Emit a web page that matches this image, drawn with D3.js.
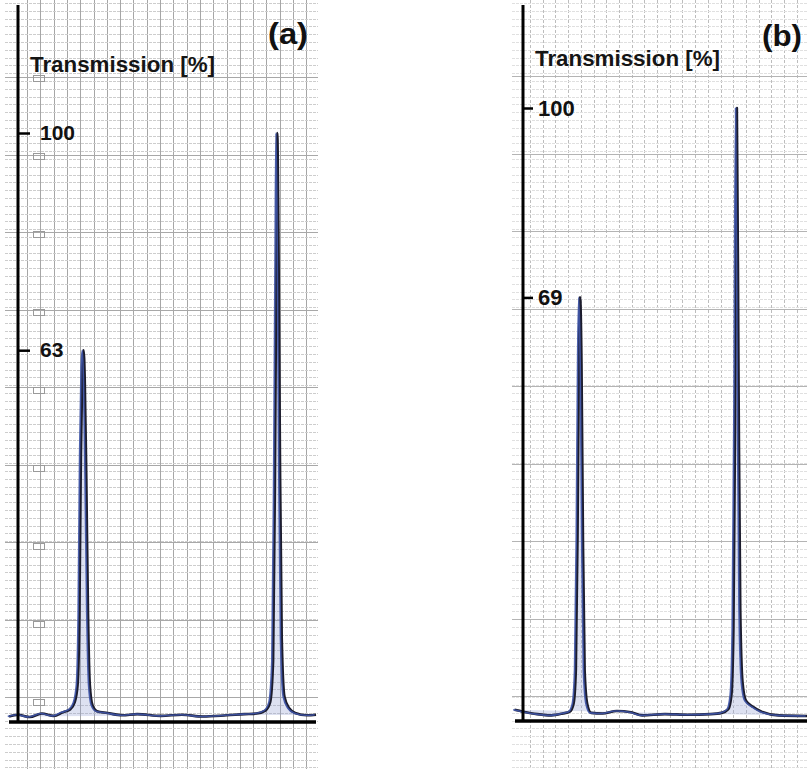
<!DOCTYPE html>
<html>
<head>
<meta charset="utf-8">
<script src="https://cdn.jsdelivr.net/npm/d3@7"></script>
<style>
  body { margin: 0; background: #fff; }
  svg { display: block; }
</style>
</head>
<body>
<script>
// values
let panelLabels = ["(a)", "(b)"]
let axisTitle = "Transmission [%]"
let ticksA = [63, 100]
let ticksB = [69, 100]
// trace = [position (arbitrary chart units), transmission %]
let traceA = [
  [-3, 0.6], [0, 0.9], [4, 0.5], [8, 1.1], [12, 0.7], [15, 1.3], [17.5, 1.8], [19.0, 3],
  [20.0, 6], [20.6, 18], [21.1, 45], [21.6, 60], [22.0, 63], [22.4, 58], [22.9, 42],
  [23.5, 18], [24.1, 6], [25.0, 2.5], [26.5, 1.5], [30, 1.2], [35, 0.8], [40, 1.0],
  [48, 0.7], [55, 0.9], [62, 0.6], [70, 0.8], [76, 1.0], [80, 1.1], [83, 1.6], [84.6, 3],
  [85.6, 10], [86.2, 40], [86.7, 80], [87.0, 100], [87.4, 82], [87.9, 45], [88.5, 14],
  [89.4, 4], [91, 2], [93, 1.2], [97, 0.8], [100, 0.9]
]
let traceB = [
  [-3, 1.5], [0, 1.2], [5, 0.8], [10, 0.6], [14, 0.9], [16.5, 1.2], [17.8, 2.5], [18.6, 8],
  [19.2, 30], [19.7, 60], [20.1, 69], [20.6, 58], [21.1, 30], [21.7, 8], [22.6, 2.5],
  [24, 1], [28, 0.9], [33, 1.3], [38, 1.1], [42, 0.6], [50, 0.8], [58, 0.7], [66, 0.8],
  [70, 1.0], [72.3, 1.6], [73.4, 4], [74.1, 15], [74.7, 50], [75.3, 100], [75.9, 55],
  [76.5, 18], [77.3, 6], [78.5, 3], [81, 2], [84, 1.2], [90, 0.6], [100, 0.5]
]

let W = 807, H = 769
let svg = d3.select("body").append("svg").attr("width", W).attr("height", H)

let panels = [
  { label: panelLabels[0], ticks: ticksA, trace: traceA,
    x0: 18, x1: 316, yBase: 720, yTop: 133, gridL: 5, gridR: 318, vStep: 13.3, vOff: 27,
    hOff: 77, grid: "#a6a6a6", dash: null, minor: "#cdcdcd", major: "#a8a8a8",
    tick: 12, pad: 10, tickFont: 21,
    titleX: 30, titleY: 72, labX: 268, labY: 44, lineTop: 5, baseL: 9 },
  { label: panelLabels[1], ticks: ticksB, trace: traceB,
    x0: 523, x1: 807, yBase: 719, yTop: 108, gridL: 512, gridR: 807, vStep: 12.7, vOff: 530,
    hOff: 76, grid: "#bdbdbd", dash: "3,2", minor: "#e0e0e0", major: "#b4b4b4",
    tick: 10, pad: 5, tickFont: 22,
    titleX: 535, titleY: 66, labX: 762, labY: 46, lineTop: 5, baseL: 515 }
]

function drawPanel(p) {
  let x = d3.scaleLinear().domain([0, 100]).range([p.x0, p.x1])
  let y = d3.scaleLinear().domain([0, 100]).range([p.yBase, p.yTop])
  let g = svg.append("g")

  // chart paper
  let grid = g.append("g")
  grid.selectAll(".vminor")
    .data(d3.range(p.vOff, p.gridR, p.vStep))
    .join("line")
    .attr("x1", d => Math.round(d) + 0.5).attr("x2", d => Math.round(d) + 0.5)
    .attr("y1", 0).attr("y2", H)
    .attr("stroke", p.grid).attr("stroke-width", 1)
    .attr("stroke-dasharray", p.dash)
  grid.selectAll(".hminor")
    .data(d3.range(3, H, 7.8))
    .join("line")
    .attr("x1", p.gridL).attr("x2", p.gridR)
    .attr("y1", d => Math.round(d) + 0.5).attr("y2", d => Math.round(d) + 0.5)
    .attr("stroke", p.minor).attr("stroke-width", 1)
    .attr("stroke-dasharray", "3,1")
  grid.selectAll(".hmajor")
    .data(d3.range(p.hOff, H, 77.5))
    .join("line")
    .attr("x1", p.gridL).attr("x2", p.gridR)
    .attr("y1", d => Math.round(d) + 0.5).attr("y2", d => Math.round(d) + 0.5)
    .attr("stroke", p.major).attr("stroke-width", 1)

  // faint printed marks of the paper scale (panel a only)
  if (p.label == "(a)") {
    grid.selectAll(".pmark")
      .data(d3.range(78, 710, 78))
      .join("rect")
      .attr("x", 33.5).attr("y", d => d - 2.5)
      .attr("width", 11).attr("height", 6)
      .attr("fill", "none").attr("stroke", "#9a9a9a").attr("stroke-width", 1)
  }

  // trace
  let line = d3.line().x(d => x(d[0])).y(d => y(d[1])).curve(d3.curveMonotoneX)
  g.append("path").datum(p.trace)
    .attr("d", line)
    .attr("fill", "#8f9bd0").attr("fill-opacity", 0.3)
    .attr("stroke", "#1c1c2c").attr("stroke-width", 2.6)
    .attr("stroke-linejoin", "round")
  g.append("path").datum(p.trace)
    .attr("d", line)
    .attr("transform", "translate(-1.3,0)")
    .attr("fill", "none").attr("stroke", "#3f55a8").attr("stroke-width", 1.6)
    .attr("stroke-opacity", 0.9)

  // axes
  g.append("line")
    .attr("x1", p.x0).attr("x2", p.x0)
    .attr("y1", p.lineTop).attr("y2", p.yBase + 3)
    .attr("stroke", "#000").attr("stroke-width", 3)
  g.append("line")
    .attr("x1", p.baseL).attr("x2", p.x1)
    .attr("y1", p.yBase + 2).attr("y2", p.yBase + 2)
    .attr("stroke", "#000").attr("stroke-width", 3.5)

  let ax = g.append("g")
    .attr("transform", "translate(" + p.x0 + ",0)")
    .call(d3.axisRight(y).tickValues(p.ticks).tickSize(p.tick).tickPadding(p.pad))
  ax.select(".domain").remove()
  ax.selectAll("line").attr("stroke", "#000").attr("stroke-width", 2.5)
  ax.selectAll("text")
    .attr("font-family", "'Liberation Sans', Arial, sans-serif")
    .attr("font-weight", "bold").attr("font-size", p.tickFont).attr("fill", "#111")

  g.append("text")
    .attr("x", p.titleX).attr("y", p.titleY)
    .attr("font-family", "'Liberation Sans', Arial, sans-serif")
    .attr("font-weight", "bold").attr("font-size", 22).attr("fill", "#151515")
    .attr("textLength", 185).attr("lengthAdjust", "spacingAndGlyphs")
    .text(axisTitle)
  g.append("text")
    .attr("x", p.labX).attr("y", p.labY)
    .attr("font-family", "'Liberation Sans', Arial, sans-serif")
    .attr("font-weight", "bold").attr("font-size", 30).attr("fill", "#111")
    .attr("textLength", 40).attr("lengthAdjust", "spacingAndGlyphs")
    .text(p.label)
}

panels.forEach(drawPanel)
</script>
</body>
</html>
